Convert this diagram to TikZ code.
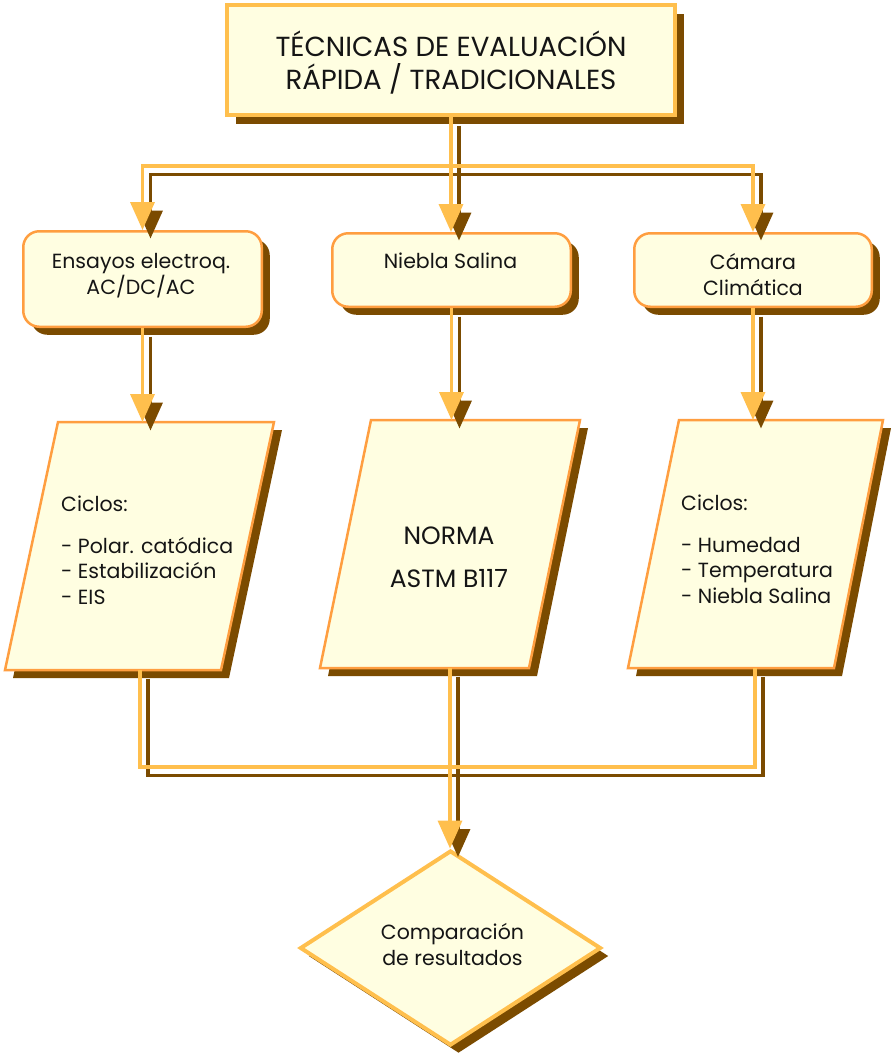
\documentclass[tikz,border=0pt]{standalone}
\usepackage{fontspec}
\setmainfont{Poppins}
\usetikzlibrary{shapes.geometric,arrows.meta,shadows}

\definecolor{paper}{HTML}{FFFEE1}
\definecolor{gold}{HTML}{FFBF4D}
\definecolor{rim}{HTML}{FF9E40}
\definecolor{umber}{HTML}{7B4B00}
\definecolor{ink}{HTML}{151515}

\tikzset{
  castshadow/.style={drop shadow={shadow xshift=#1, shadow yshift=-#1, fill=umber, opacity=1}},
  headbox/.style={draw=gold, line width=4pt, fill=paper, minimum width=448pt,
    minimum height=110pt, inner sep=0pt, castshadow=9pt},
  stagebox/.style={draw=rim, line width=2.5pt, fill=paper, rounded corners=16pt,
    inner sep=0pt, castshadow=8pt},
  slab/.style={draw=rim, line width=2.5pt, fill=paper, castshadow=8pt},
  verdict/.style={shape=diamond, draw=gold, line width=4pt, fill=paper,
    minimum width=301pt, minimum height=195pt, inner sep=0pt, castshadow=8pt},
  % text nodes are placed by the baseline of their last line
  txt/.style={anchor=base, text=ink, align=center, inner sep=0pt,
    font=\fontsize{20.5}{25.5}\selectfont},
  listtxt/.style={txt, align=left, anchor=base west},
  wire/.style={draw=gold, line width=3.5pt},
  wireshade/.style={draw=umber, line width=3.5pt,
    transform canvas={shift={(8pt,-8.5pt)}}},
  arrowed/.style={-{Triangle[width=24pt,length=28pt]}},
}

\begin{document}
\begin{tikzpicture}[x=1pt,y=-1pt]
\useasboundingbox (0,0) rectangle (891,1058);
\fill[white] (0,0) rectangle (891,1058);

% title block
\node[headbox] (head) at (451,60) {};
\node[txt, font=\fontsize{27.6}{33}\selectfont] (headtxt) at (451,89)
  {TÉCNICAS DE EVALUACIÓN\\RÁPIDA / TRADICIONALES};

% test families
\node[stagebox, minimum width=238.5pt, minimum height=95.5pt] (ensayos) at (142.5,279) {};
\node[txt] (ensayostxt) at (141,294) {Ensayos electroq.\\AC/DC/AC};
\node[stagebox, minimum width=238.5pt, minimum height=73.5pt] (niebla) at (451.5,270) {};
\node[txt] (nieblatxt) at (450.5,268) {Niebla Salina};
\node[stagebox, minimum width=237.5pt, minimum height=73.5pt] (camara) at (753,270) {};
\node[txt] (camaratxt) at (753,295) {Cámara\\Climática};

% procedure sheets
\path[slab] (58,422) -- (274,422) -- (221,670) -- (5,670) -- cycle;
\coordinate (ciclosAtop) at (142.5,422);
\coordinate (ciclosAbot) at (140,670);
\node[listtxt] (ciclosAtxt) at (61,604)
  {Ciclos:\\[16.5pt]- Polar. catódica\\- Estabilización\\- EIS};

\path[slab] (371,420) -- (580,420) -- (529,668) -- (320,668) -- cycle;
\coordinate (normatop) at (451.5,420);
\coordinate (normabot) at (450,668);
\node[txt, font=\fontsize{25}{43}\selectfont] (normatxt) at (449,587)
  {NORMA\\ASTM B117};

\path[slab] (679,420) -- (883,420) -- (834,668) -- (628,668) -- cycle;
\coordinate (ciclosBtop) at (753,420);
\coordinate (ciclosBbot) at (755,668);
\node[listtxt] (ciclosBtxt) at (681,603)
  {Ciclos:\\[16pt]- Humedad\\- Temperatura\\- Niebla Salina};

% outcome
\node[verdict] (comp) at (450.5,948) {};
\node[txt] (comptxt) at (452.5,965) {Comparación\\de resultados};

% junction points
\coordinate (split) at (451,166);
\coordinate (merge) at (450,767);

% connector shadows
\draw[wireshade, arrowed] (head.south) -- (head.south |- niebla.north);
\draw[wireshade, arrowed] (split) -| (ensayos.north);
\draw[wireshade, arrowed] (split) -| (camara.north);
\draw[wireshade, arrowed] (ensayos.south) -- (ciclosAtop);
\draw[wireshade, arrowed] (niebla.south) -- (normatop);
\draw[wireshade, arrowed] (camara.south) -- (ciclosBtop);
\draw[wireshade] (ciclosAbot) |- (merge) -| (ciclosBbot);
\draw[wireshade, arrowed] (normabot) -- (normabot |- comp.north);

% connectors
\draw[wire, arrowed] (head.south) -- (head.south |- niebla.north);
\draw[wire, arrowed] (split) -| (ensayos.north);
\draw[wire, arrowed] (split) -| (camara.north);
\draw[wire, arrowed] (ensayos.south) -- (ciclosAtop);
\draw[wire, arrowed] (niebla.south) -- (normatop);
\draw[wire, arrowed] (camara.south) -- (ciclosBtop);
\draw[wire] (ciclosAbot) |- (merge) -| (ciclosBbot);
\draw[wire, arrowed] (normabot) -- (normabot |- comp.north);
\end{tikzpicture}
\end{document}
